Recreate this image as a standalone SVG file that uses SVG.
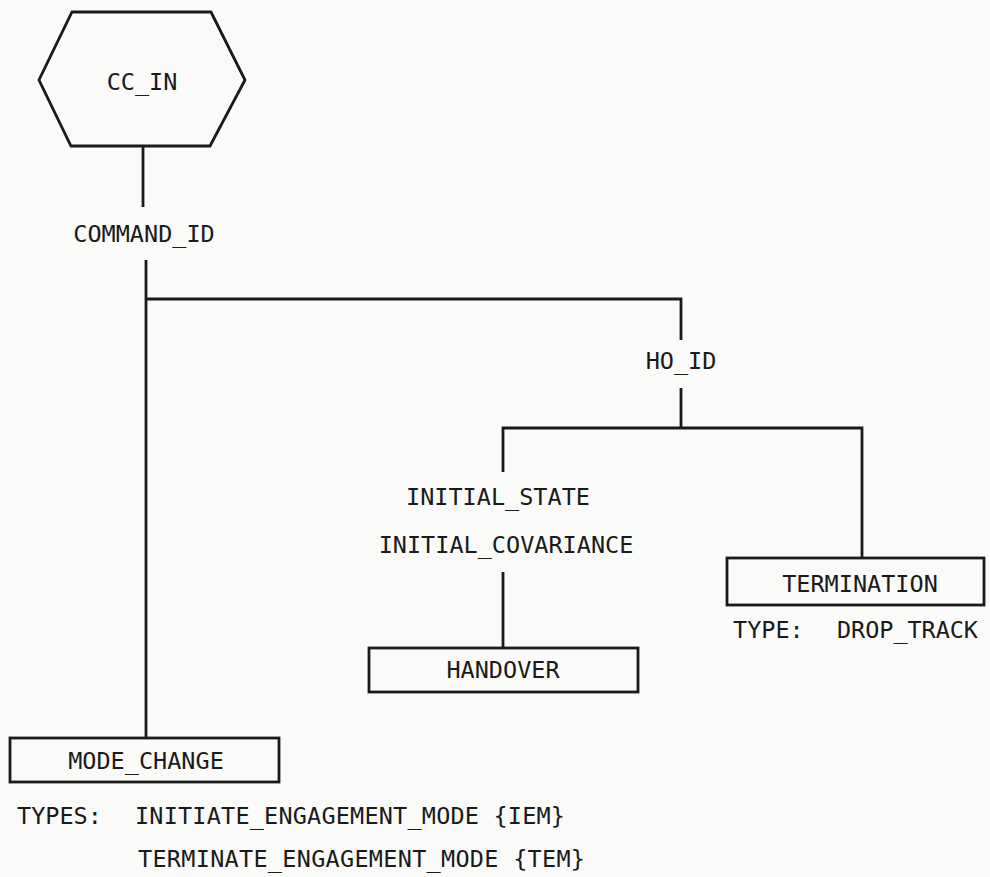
<svg xmlns="http://www.w3.org/2000/svg" width="990" height="877" viewBox="0 0 990 877">
<style>
.ln{fill:none;stroke:#1a1a1a;stroke-width:2.8;stroke-linejoin:miter}
.bx{fill:none;stroke:#1a1a1a;stroke-width:2.8}
.t{font-family:"DejaVu Sans Mono","Liberation Mono",monospace;font-size:23.5px;fill:#1a1a1a}
.c{text-anchor:middle}
</style>
<rect x="0" y="0" width="990" height="877" fill="#fafaf8"/>
<g id="connectors">
<path class="ln" d="M143,146 V207"/>
<path class="ln" d="M146,260 V738"/>
<path class="ln" d="M146,299 H681 V340"/>
<path class="ln" d="M681,388 V428"/>
<path class="ln" d="M503,472 V428 H862 V558"/>
<path class="ln" d="M503,572 V648"/>
</g>
<g id="cc_in">
<polygon class="bx" points="72,12 211,12 245,80 210,146 71,146 39,80"/>
<text class="t c" x="142" y="90">CC_IN</text>
</g>
<g id="command_id">
<text class="t c" x="144" y="242">COMMAND_ID</text>
</g>
<g id="ho_id">
<text class="t c" x="681" y="369">HO_ID</text>
</g>
<g id="initial_labels">
<text class="t c" x="498" y="505">INITIAL_STATE</text>
<text class="t c" x="506" y="553">INITIAL_COVARIANCE</text>
</g>
<g id="handover">
<rect class="bx" x="369" y="648" width="269" height="44"/>
<text class="t c" x="503" y="678">HANDOVER</text>
</g>
<g id="termination">
<rect class="bx" x="727" y="558" width="257" height="47"/>
<text class="t c" x="860" y="592">TERMINATION</text>
<text class="t" x="733" y="638">TYPE:</text>
<text class="t" x="837" y="638" textLength="141" lengthAdjust="spacing">DROP_TRACK</text>
</g>
<g id="mode_change">
<rect class="bx" x="10" y="738" width="269" height="44"/>
<text class="t c" x="146" y="769">MODE_CHANGE</text>
<text class="t" x="17" y="824">TYPES:</text>
<text class="t" x="135" y="824" textLength="430" lengthAdjust="spacing">INITIATE_ENGAGEMENT_MODE {IEM}</text>
<text class="t" x="138" y="867" textLength="447" lengthAdjust="spacing">TERMINATE_ENGAGEMENT_MODE {TEM}</text>
</g>
</svg>
